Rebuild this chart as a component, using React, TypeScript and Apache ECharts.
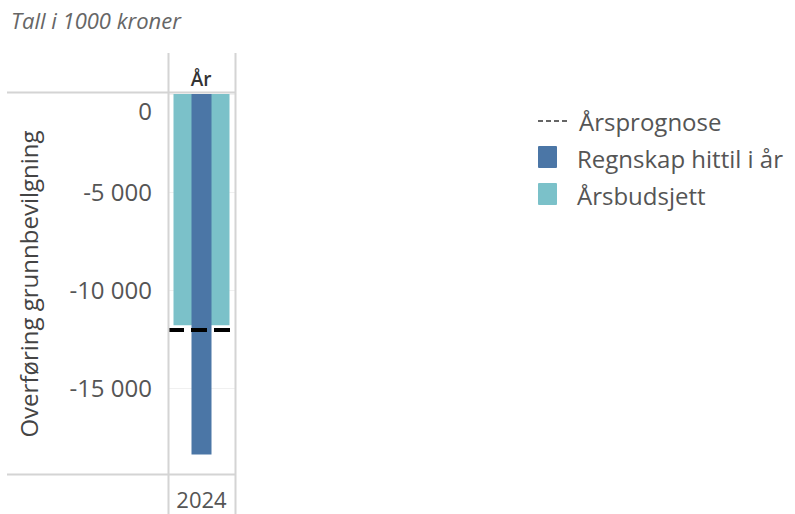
import React, { useEffect, useRef } from "react";
import * as echarts from "echarts";

const categories = ["2024"];
const budget = [-11800]; // Årsbudsjett
const actual = [-18400]; // Regnskap hittil i år
const forecast = [-12050]; // Årsprognose
const yTickValues = [0, -5000, -10000, -15000];
const legendNames = ["Årsprognose", "Regnskap hittil i år", "Årsbudsjett"];

const FONT = "'Open Sans', sans-serif";
const DARK = "#4b76a6";
const LIGHT = "#7bc1c9";

function fmt(v: number): string {
  const s = Math.abs(v).toString().replace(/\B(?=(\d{3})+(?!\d))/g, " ");
  return (v < 0 ? "-" : "") + s;
}

export default function App() {
  const ref = useRef<HTMLDivElement>(null);
  useEffect(() => {
    document.body.style.margin = "0";
    if (!ref.current) return;
    const chart = echarts.init(ref.current, undefined, { renderer: "svg" });
    const gridLeft = 168;
    const gridRight = 235;
    const gridTop = 94;
    const gridBottom = 474;
    const lineColor = "#d4d4d4";
    chart.setOption({
      animation: false,
      textStyle: { fontFamily: FONT },
      grid: {
        left: gridLeft,
        top: gridTop,
        width: gridRight - gridLeft,
        height: gridBottom - gridTop,
        containLabel: false,
      },
      xAxis: [
        {
          type: "category",
          data: categories,
          axisLine: { show: false },
          axisTick: { show: false },
          axisLabel: { fontSize: 22, color: "#555", margin: 14, fontFamily: FONT },
        },
        {
          type: "category",
          data: categories,
          show: false,
        },
      ],
      yAxis: {
        type: "value",
        min: -19400,
        max: 0,
        splitNumber: 4,
        name: "Overføring grunnbevilgning",
        nameLocation: "middle",
        nameGap: 128,
        nameTextStyle: { fontSize: 24, color: "#444", fontFamily: FONT },
        axisLine: { show: false },
        axisTick: { show: false },
        splitLine: { show: true, lineStyle: { color: "#f0f0f0", width: 1 } },
        axisLabel: {
          fontSize: 24,
          color: "#555",
          margin: 16,
          fontFamily: FONT,
          formatter: (v: number) => {
            if (!yTickValues.includes(v)) return "";
            if (v === 0) return "{z|0}";
            return fmt(v);
          },
          rich: {
            z: { fontSize: 24, color: "#555", fontFamily: FONT, padding: [32, 0, 0, 0] },
          },
        },
      },
      series: [
        {
          name: legendNames[2],
          type: "bar",
          xAxisIndex: 0,
          data: budget,
          barWidth: 56,
          itemStyle: { color: LIGHT },
          z: 2,
        },
        {
          name: legendNames[1],
          type: "bar",
          xAxisIndex: 1,
          data: actual,
          barWidth: 20,
          itemStyle: { color: DARK },
          z: 3,
        },
        {
          name: legendNames[0],
          type: "line",
          xAxisIndex: 0,
          data: forecast,
          symbol: "none",
          lineStyle: { color: "#000", width: 0 },
          z: 5,
          markLine: {
            silent: true,
            symbol: ["none", "none"],
            label: { show: false },
            lineStyle: { color: "#000", width: 4, type: [16, 7], opacity: 1 },
            data: [{ yAxis: forecast[0] }],
          },
        },
      ],
      graphic: [
        {
          type: "text",
          left: 11,
          top: 9,
          style: { text: "Tall i 1000 kroner", fontSize: 22, fontStyle: "italic", fill: "#666", fontFamily: FONT },
        },
        {
          type: "text",
          x: 201,
          y: 79,
          style: {
            text: "År",
            fontSize: 19,
            fontWeight: 600,
            fill: "#333",
            fontFamily: FONT,
            align: "center",
            verticalAlign: "middle",
          },
        },
        { type: "line", shape: { x1: 168.5, y1: 53, x2: 168.5, y2: 514 }, style: { stroke: lineColor, lineWidth: 2 }, z: 10 },
        { type: "line", shape: { x1: 235.5, y1: 53, x2: 235.5, y2: 514 }, style: { stroke: lineColor, lineWidth: 2 }, z: 10 },
        { type: "line", shape: { x1: 7, y1: 92.5, x2: 236, y2: 92.5 }, style: { stroke: lineColor, lineWidth: 2 }, z: 10 },
        { type: "line", shape: { x1: 7, y1: 474.5, x2: 236, y2: 474.5 }, style: { stroke: lineColor, lineWidth: 2 }, z: 10 },
        // legend
        {
          type: "line",
          shape: { x1: 538, y1: 121, x2: 569, y2: 121 },
          style: { stroke: "#333", lineWidth: 1.5, lineDash: [5, 3] },
        },
        {
          type: "text",
          x: 579,
          y: 121,
          style: { text: legendNames[0], fontSize: 24, fill: "#555", fontFamily: FONT, verticalAlign: "middle" },
        },
        { type: "rect", shape: { x: 538, y: 146, width: 19, height: 22, r: 1 }, style: { fill: DARK } },
        {
          type: "text",
          x: 577,
          y: 158,
          style: { text: legendNames[1], fontSize: 24, fill: "#555", fontFamily: FONT, verticalAlign: "middle" },
        },
        { type: "rect", shape: { x: 538, y: 183, width: 19, height: 22, r: 1 }, style: { fill: LIGHT } },
        {
          type: "text",
          x: 577,
          y: 195,
          style: { text: legendNames[2], fontSize: 24, fill: "#555", fontFamily: FONT, verticalAlign: "middle" },
        },
      ],
    });
    return () => chart.dispose();
  }, []);
  return <div ref={ref} style={{ width: 795, height: 514 }} />;
}
